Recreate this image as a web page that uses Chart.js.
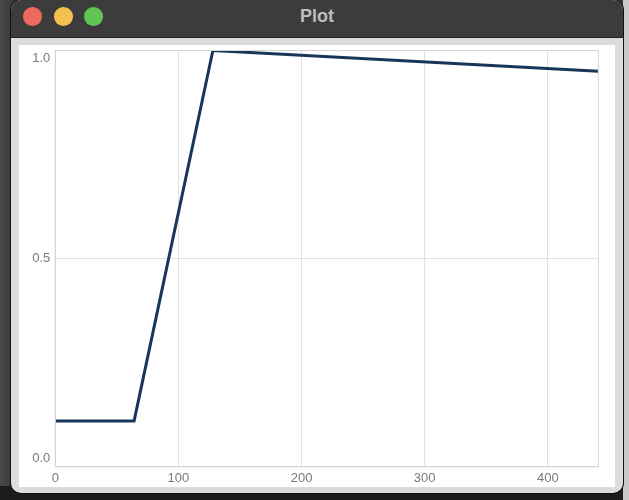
<!DOCTYPE html>
<html>
<head>
<meta charset="utf-8">
<script src="https://cdn.jsdelivr.net/npm/chart.js@4/dist/chart.umd.min.js"></script>
<style>
  html, body { margin: 0; padding: 0; }
  body { width: 629px; height: 500px; overflow: hidden; position: relative;
         background: linear-gradient(to right, #4a4a4a 0px, #3a3a3a 12px, #2c2c2c 60%, #3a3a3a 100%); }
  #below { position: absolute; left: 0; top: 486px; width: 629px; height: 14px; background: #1c1c1c; }
  #rightbg { position: absolute; left: 623px; top: 0; width: 6px; height: 500px; background: #c9c9c9; }
  #win { position: absolute; left: 11px; top: 0px; width: 612px; height: 493px;
         border-radius: 10px; background: #dcdcdc; overflow: hidden;
         box-shadow: 0 0 0 1px #111; }
  #titlebar { position: absolute; left: 0; top: 0; width: 612px; height: 38px; background: #3c3c3c;
              border-bottom: 1px solid #1e1e1e; box-sizing: border-box; }
  .light { position: absolute; top: 7.3px; width: 18.7px; height: 18.7px; border-radius: 50%; }
  #title { position: absolute; left: 0; top: 0; width: 612px; height: 34px; line-height: 32px;
           text-align: center; font-family: "Liberation Sans", Arial, sans-serif; font-weight: bold;
           font-size: 18px; color: #bdbdbd; }
  #panel { position: absolute; left: 8px; top: 45px; width: 596px; height: 442px; background: #fff; }
</style>
</head>
<body>
<div id="below"></div>
<div id="rightbg"></div>
<div id="win">
  <div id="titlebar">
    <div class="light" style="left:12.3px;background:#ee6a5f"></div>
    <div class="light" style="left:43px;background:#f5c04f"></div>
    <div class="light" style="left:73.3px;background:#61c554"></div>
    <div id="title">Plot</div>
  </div>
  <div id="panel"><canvas id="c"></canvas></div>
</div>
<script>
// ---- data ----
const xValues = [0, 64, 128, 441];
const yValues = [0.11, 0.11, 1.0, 0.95];
const xTickValues = [0, 100, 200, 300, 400];
const yTickValues = [0, 0.5, 1];
const yTickLabels = ['0.0', '0.5', '1.0'];

const points = xValues.map((x, i) => ({ x: x, y: yValues[i] }));

const frame = {
  id: 'frame',
  afterDraw(chart) {
    const a = chart.chartArea, ctx = chart.ctx;
    ctx.save();
    ctx.strokeStyle = '#d4d4d4';
    ctx.lineWidth = 1;
    ctx.strokeRect(a.left, a.top, a.right - a.left, a.bottom - a.top);
    ctx.restore();
  }
};

const tickFont = { family: '"Liberation Sans", Arial, sans-serif', size: 13 };

new Chart(document.getElementById('c'), {
  type: 'line',
  data: {
    datasets: [{
      data: points,
      borderColor: '#18365b',
      borderWidth: 3,
      pointRadius: 0,
      tension: 0,
      fill: false
    }]
  },
  options: {
    responsive: true,
    maintainAspectRatio: false,
    animation: false,
    layout: { padding: { left: 0, top: 5.5, right: 16.7, bottom: 0 } },
    plugins: { legend: { display: false }, tooltip: { enabled: false } },
    scales: {
      x: {
        type: 'linear',
        min: xValues[0],
        max: xValues[xValues.length - 1],
        afterBuildTicks(scale) { scale.ticks = xTickValues.map(v => ({ value: v })); },
        ticks: { color: '#7a7a7a', font: tickFont, padding: 4, includeBounds: false,
                 callback: v => String(v) },
        grid: { color: '#e2e2e2', lineWidth: 1, drawTicks: false },
        border: { color: '#d4d4d4' },
        afterFit(scale) { scale.height = 20.3; scale.paddingLeft = 0; scale.paddingRight = 0; }
      },
      y: {
        type: 'linear',
        min: 0,
        max: 1,
        afterBuildTicks(scale) { scale.ticks = yTickValues.map(v => ({ value: v })); },
        ticks: {
          color: '#7a7a7a', font: tickFont, padding: 5,
          callback: (v) => {
            const i = yTickValues.indexOf(v);
            const s = i >= 0 ? yTickLabels[i] : '';
            if (i === 0) return [s, ''];
            if (i === yTickValues.length - 1) return ['', s];
            return s;
          }
        },
        grid: { color: '#e2e2e2', lineWidth: 1, drawTicks: false },
        border: { color: '#d4d4d4' },
        afterFit(scale) { scale.width = 36.3; scale.paddingTop = 0; scale.paddingBottom = 0; }
      }
    }
  },
  plugins: [frame]
});
</script>
</body>
</html>
